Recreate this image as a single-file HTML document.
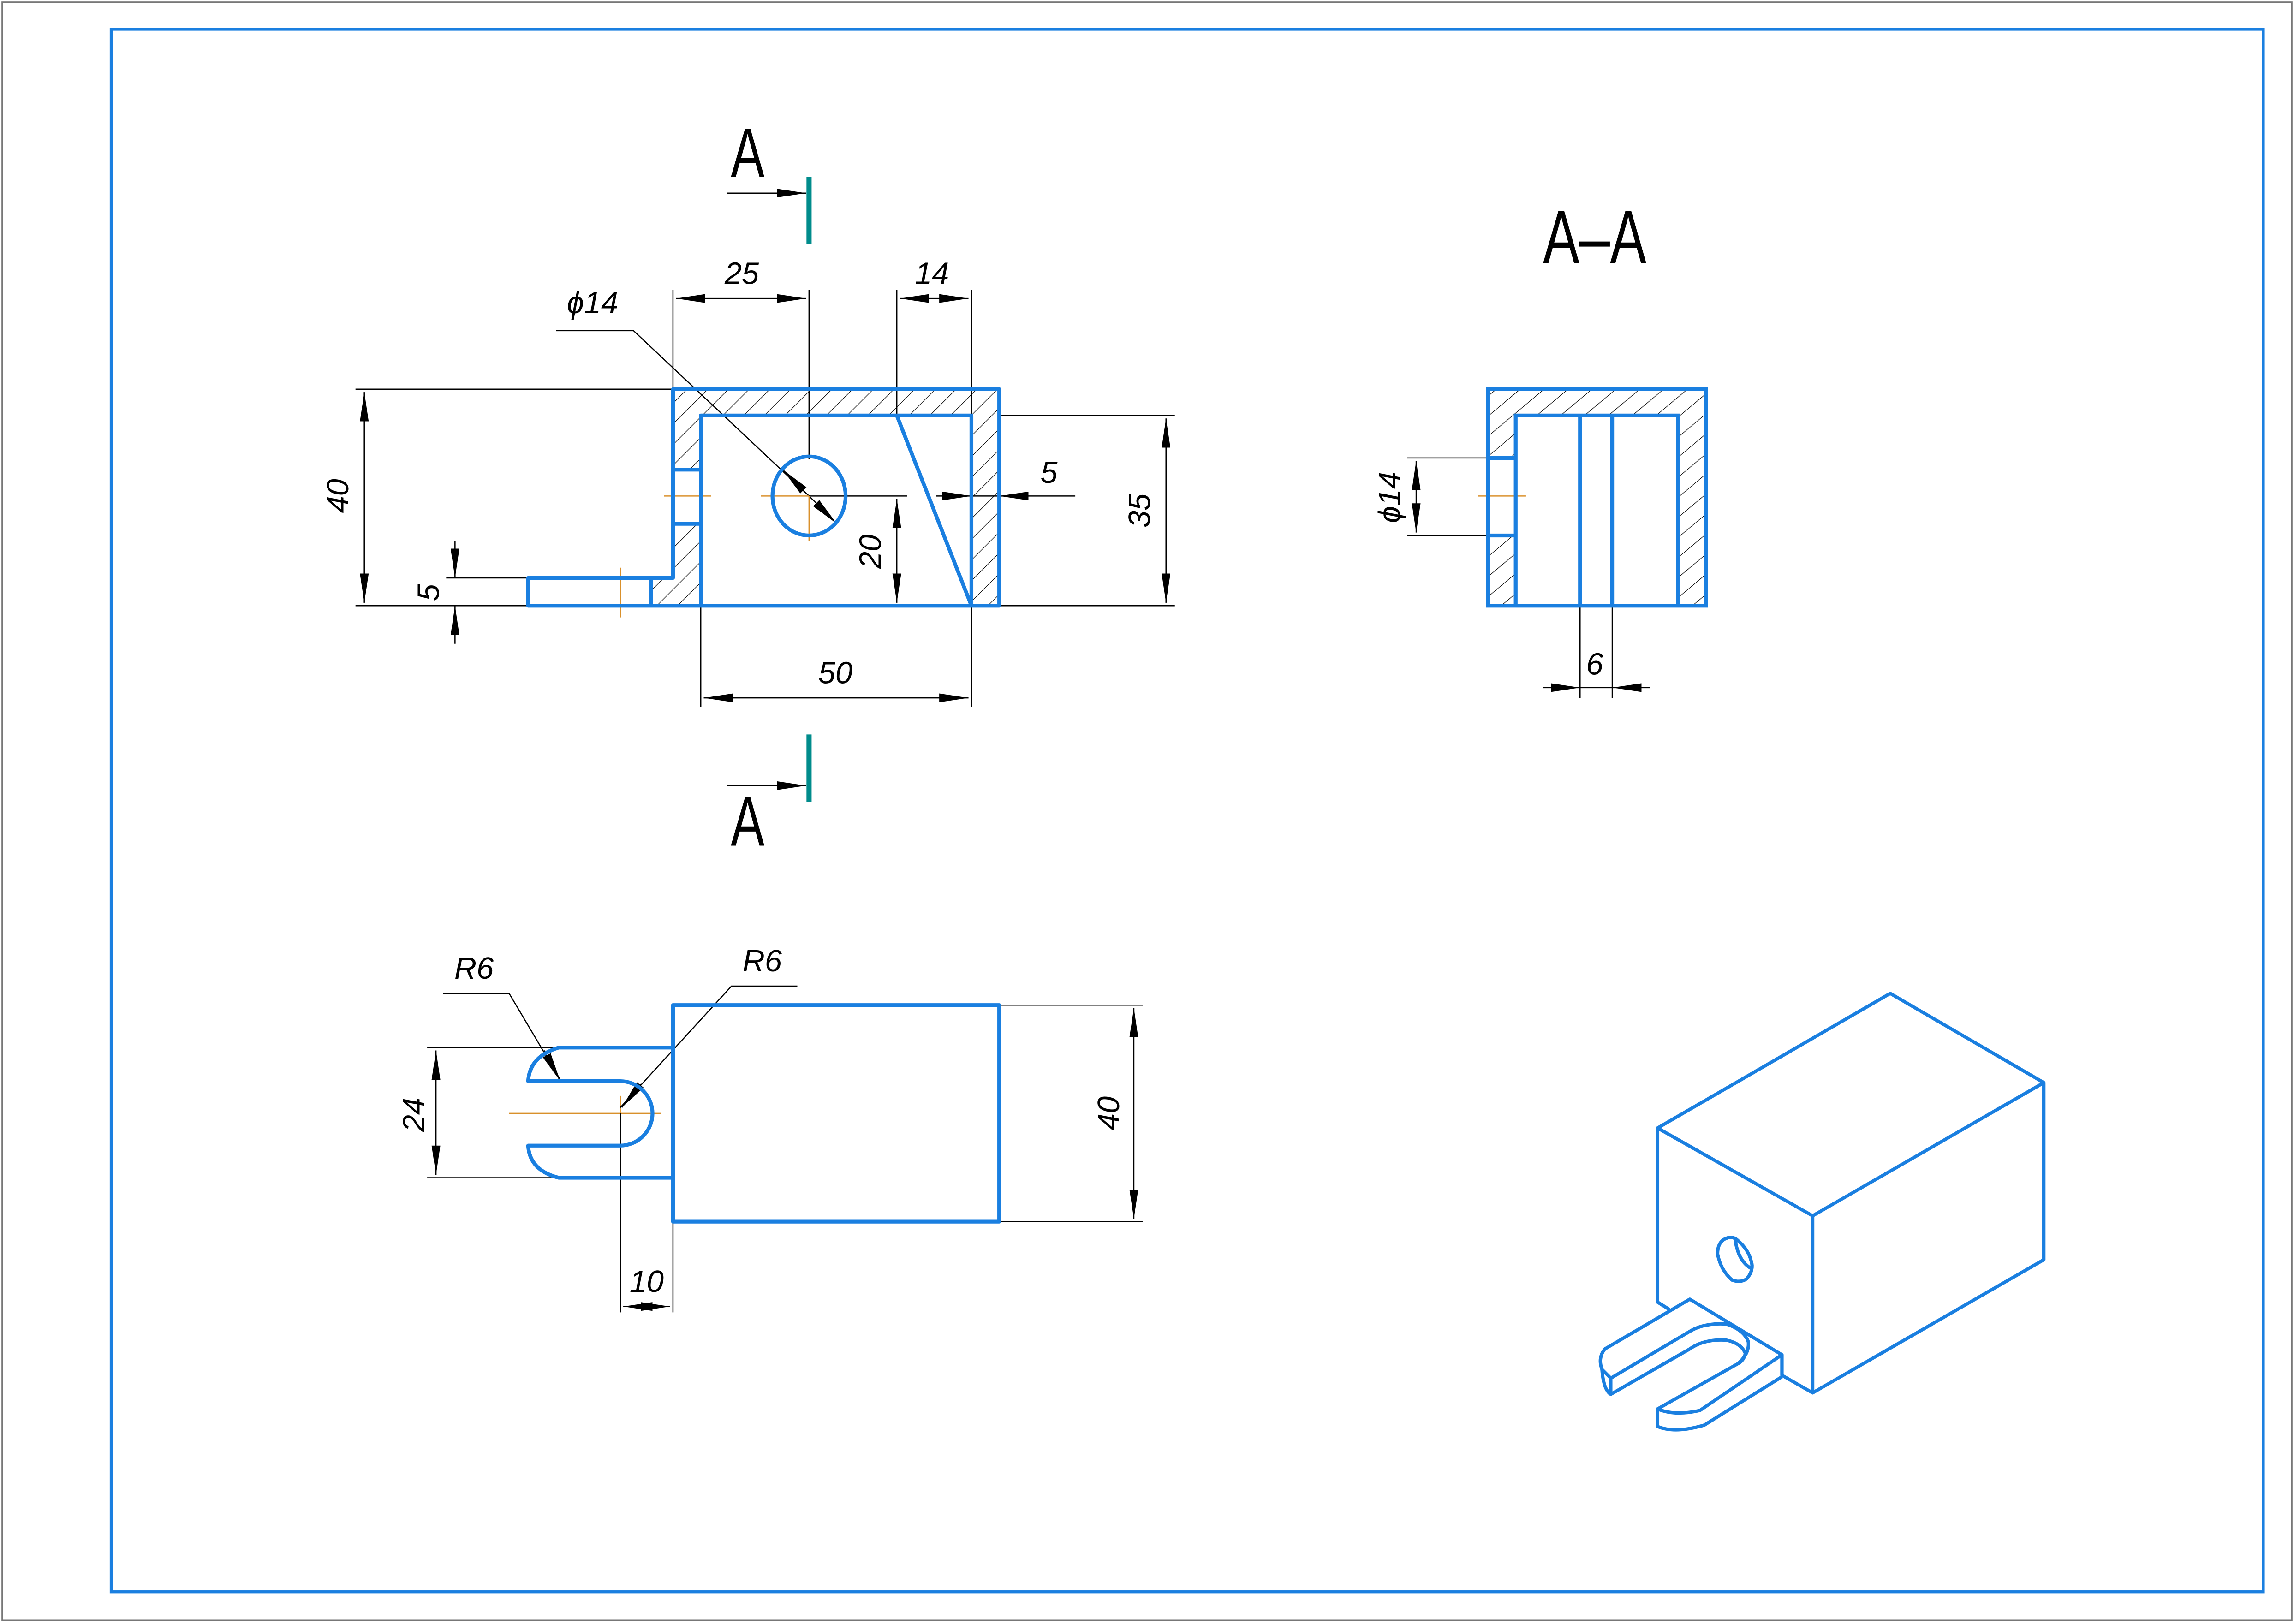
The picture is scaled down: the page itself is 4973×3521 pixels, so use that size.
<!DOCTYPE html>
<html><head><meta charset="utf-8"><style>
html,body{margin:0;padding:0;background:#fff;}
svg{display:block;}
text{font-family:"Liberation Sans",sans-serif;font-style:italic;fill:#000;}
</style></head><body>
<svg width="4973" height="3521" viewBox="0 0 1568 1110" preserveAspectRatio="none" xmlns="http://www.w3.org/2000/svg">
<defs>
<marker id="ar" viewBox="0 0 20 6" refX="20" refY="3" markerWidth="20" markerHeight="6" markerUnits="userSpaceOnUse" orient="auto"><path d="M0,0 L20,3 L0,6 Z" fill="#000"/></marker>
<marker id="as" viewBox="0 0 20 6" refX="0" refY="3" markerWidth="20" markerHeight="6" markerUnits="userSpaceOnUse" orient="auto"><path d="M20,0 L0,3 L20,6 Z" fill="#000"/></marker>
<pattern id="h" patternUnits="userSpaceOnUse" width="10" height="10" patternTransform="rotate(45)"><line x1="0" y1="0" x2="0" y2="10" stroke="#000" stroke-width="0.8"/></pattern>
<pattern id="h2" patternUnits="userSpaceOnUse" width="10.5" height="10.5" patternTransform="rotate(50)"><line x1="0" y1="0" x2="0" y2="10.5" stroke="#000" stroke-width="0.8"/></pattern>
</defs>
<rect x="0" y="0" width="1568" height="1110" fill="#fff"/>
<rect x="1.5" y="1.5" width="1565" height="1106" fill="none" stroke="#777" stroke-width="1"/>
<rect x="76" y="20" width="1471" height="1068" fill="none" stroke="#1a7fe0" stroke-width="2"/>

<g fill="url(#h)" stroke="none">
<rect x="460" y="266" width="223" height="18"/>
<rect x="460" y="284" width="19" height="37"/>
<rect x="460" y="358" width="19" height="56"/>
<rect x="445" y="395" width="15" height="19"/>
<rect x="664" y="284" width="19" height="130"/>
</g>
<g stroke="#000" stroke-width="0.8" fill="none">
<line x1="460" y1="198" x2="460" y2="266"/>
<line x1="553" y1="198" x2="553" y2="314"/>
<line x1="613" y1="198" x2="613" y2="284"/>
<line x1="664" y1="198" x2="664" y2="284"/>
<line x1="462" y1="204" x2="551" y2="204" marker-start="url(#as)" marker-end="url(#ar)"/>
<line x1="615" y1="204" x2="662" y2="204" marker-start="url(#as)" marker-end="url(#ar)"/>
<line x1="243" y1="266" x2="460" y2="266"/>
<line x1="243" y1="414" x2="361" y2="414"/>
<line x1="249" y1="268" x2="249" y2="412" marker-start="url(#as)" marker-end="url(#ar)"/>
<line x1="305" y1="395" x2="361" y2="395"/>
<line x1="311" y1="370" x2="311" y2="395" marker-end="url(#ar)"/>
<line x1="311" y1="440" x2="311" y2="414" marker-end="url(#ar)"/>
<line x1="683" y1="284" x2="803" y2="284"/>
<line x1="683" y1="414" x2="803" y2="414"/>
<line x1="797" y1="286" x2="797" y2="412" marker-start="url(#as)" marker-end="url(#ar)"/>
<line x1="553" y1="339" x2="620" y2="339"/>
<line x1="640" y1="339" x2="664" y2="339" marker-end="url(#ar)"/>
<line x1="735" y1="339" x2="683" y2="339" marker-end="url(#ar)"/>
<line x1="664" y1="339" x2="683" y2="339"/>
<line x1="613" y1="341" x2="613" y2="412" marker-start="url(#as)" marker-end="url(#ar)"/>
<line x1="479" y1="414" x2="479" y2="483"/>
<line x1="664" y1="414" x2="664" y2="483"/>
<line x1="481" y1="477" x2="662" y2="477" marker-start="url(#as)" marker-end="url(#ar)"/>
<polyline points="380,226 433,226 553,339"/>
<line x1="540" y1="326" x2="535" y2="321" marker-end="url(#ar)"/>
<line x1="553" y1="339" x2="572" y2="358" marker-end="url(#ar)"/>
<line x1="497" y1="132" x2="551" y2="132" marker-end="url(#ar)"/>
<line x1="497" y1="537" x2="551" y2="537" marker-end="url(#ar)"/>
</g>
<g stroke="#d9902b" stroke-width="0.8">
<line x1="454" y1="339" x2="486" y2="339"/>
<line x1="520" y1="339" x2="553" y2="339"/>
<line x1="553" y1="339" x2="553" y2="370"/>
<line x1="424" y1="388" x2="424" y2="422"/>
<line x1="1010" y1="339" x2="1043" y2="339"/>
<line x1="348" y1="761" x2="452" y2="761"/>
<line x1="424" y1="749" x2="424" y2="761"/>
</g>
<g stroke="#1a7fe0" stroke-width="2.6" fill="none" stroke-linejoin="round">
<path d="M460,266 H683 V414 H361 V395 H460 Z"/>
<path d="M479,414 V284 H664 V414"/>
<line x1="445" y1="395" x2="445" y2="414"/>
<line x1="460" y1="321" x2="479" y2="321"/>
<line x1="460" y1="358" x2="479" y2="358"/>
<line x1="613" y1="284" x2="664" y2="414"/>
<ellipse cx="553" cy="339" rx="25" ry="27"/>
</g>
<g stroke="#008c8c" stroke-width="3.5"><line x1="553" y1="121" x2="553" y2="167"/><line x1="553" y1="502" x2="553" y2="548"/></g>
<text transform="translate(511,121) scale(0.72,1)" font-size="48" style="font-style:normal" text-anchor="middle">A</text>
<text transform="translate(511,578) scale(0.72,1)" font-size="48" style="font-style:normal" text-anchor="middle">A</text>
<g font-size="21" text-anchor="middle">
<text x="507" y="194">25</text>
<text x="637" y="194">14</text>
<text x="405" y="214">ϕ14</text>
<text x="717" y="330">5</text>
<text x="571" y="467">50</text>
<text transform="translate(238,339) rotate(-90)">40</text>
<text transform="translate(300,405) rotate(-90)">5</text>
<text transform="translate(786,349) rotate(-90)">35</text>
<text transform="translate(602,377) rotate(-90)">20</text>
</g>

<text transform="translate(1090,180) scale(0.72,1)" font-size="52" style="font-style:normal" text-anchor="middle">A–A</text>
<g fill="url(#h2)">
<rect x="1017" y="266" width="149" height="18"/>
<rect x="1017" y="284" width="19" height="29"/>
<rect x="1017" y="366" width="19" height="48"/>
<rect x="1147" y="284" width="19" height="130"/>
</g>
<g stroke="#000" stroke-width="0.8" fill="none">
<line x1="962" y1="313" x2="1017" y2="313"/>
<line x1="962" y1="366" x2="1017" y2="366"/>
<line x1="968" y1="315" x2="968" y2="364" marker-start="url(#as)" marker-end="url(#ar)"/>
<line x1="1080" y1="414" x2="1080" y2="477"/>
<line x1="1102" y1="414" x2="1102" y2="477"/>
<line x1="1055" y1="470" x2="1080" y2="470" marker-end="url(#ar)"/>
<line x1="1128" y1="470" x2="1102" y2="470" marker-end="url(#ar)"/>
<line x1="1080" y1="470" x2="1102" y2="470"/>
</g>
<g stroke="#1a7fe0" stroke-width="2.6" fill="none">
<rect x="1017" y="266" width="149" height="148"/>
<path d="M1036,414 V284 H1147 V414"/>
<line x1="1017" y1="313" x2="1036" y2="313"/>
<line x1="1017" y1="366" x2="1036" y2="366"/>
<line x1="1080" y1="284" x2="1080" y2="414"/>
<line x1="1102" y1="284" x2="1102" y2="414"/>
</g>
<g font-size="21" text-anchor="middle">
<text x="1090" y="461">6</text>
<text transform="translate(957,340) rotate(-90)">ϕ14</text>
</g>

<g stroke="#000" stroke-width="0.8" fill="none">
<line x1="292" y1="716" x2="381" y2="716"/>
<line x1="292" y1="805" x2="381" y2="805"/>
<line x1="298" y1="718" x2="298" y2="803" marker-start="url(#as)" marker-end="url(#ar)"/>
<line x1="683" y1="687" x2="781" y2="687"/>
<line x1="683" y1="835" x2="781" y2="835"/>
<line x1="775" y1="689" x2="775" y2="833" marker-start="url(#as)" marker-end="url(#ar)"/>
<line x1="424" y1="761" x2="424" y2="897"/>
<line x1="460" y1="835" x2="460" y2="897"/>
<line x1="426" y1="893" x2="458" y2="893" marker-start="url(#as)" marker-end="url(#ar)"/>
<polyline points="303,679 348,679 383,738" />
<polyline points="545,674 500,674 424,757"/>
<line x1="372" y1="718" x2="383" y2="739" marker-end="url(#ar)"/>
<line x1="438" y1="741" x2="425" y2="757" marker-end="url(#ar)"/>
</g>
<g stroke="#1a7fe0" stroke-width="2.6" fill="none" stroke-linejoin="round">
<rect x="460" y="687" width="223" height="148"/>
<path d="M460,716 H382 Q362,722 361,739 H424 A21.5,21.5 0 0 1 424,783 H361 Q362,800 382,805 H460"/>
</g>
<g font-size="21" text-anchor="middle">
<text x="324" y="669">R6</text>
<text x="521" y="664">R6</text>
<text x="442" y="883">10</text>
<text transform="translate(290,762) rotate(-90)">24</text>
<text transform="translate(765,761) rotate(-90)">40</text>
</g>

<g stroke="#1a7fe0" stroke-width="2.3" fill="none" stroke-linejoin="round">
<path d="M1133,771 L1292,679 L1397,740 L1239,831 Z"/>
<path d="M1397,740 V861 L1239,952 V831"/>
<path d="M1133,771 V890 L1141,895"/>
<path d="M1239,952 L1218,940 V926 L1155,888 L1097,922 Q1092,928 1095,936 Q1096,950 1101,953 L1155,922 Q1165,915 1180,916 Q1190,918 1193,925 Q1192,930 1188,932 L1133,963 V975 Q1145,980 1165,974 L1218,941"/>
<path d="M1095,936 L1101,942 V953"/>
<path d="M1101,942 L1155,910 Q1165,904 1180,905 Q1192,909 1195,917 Q1196,925 1188,932"/>
<path d="M1133,963 Q1145,968 1162,964 L1218,926"/>
<path d="M1181,846 Q1174,848 1174,857 Q1176,868 1184,875 Q1190,877 1194,874 Q1199,868 1197,862 Q1195,854 1188,848 Q1185,845 1181,846 Z"/>
<path d="M1186,847 Q1188,862 1197,867"/>
</g>
</svg>
</body></html>
